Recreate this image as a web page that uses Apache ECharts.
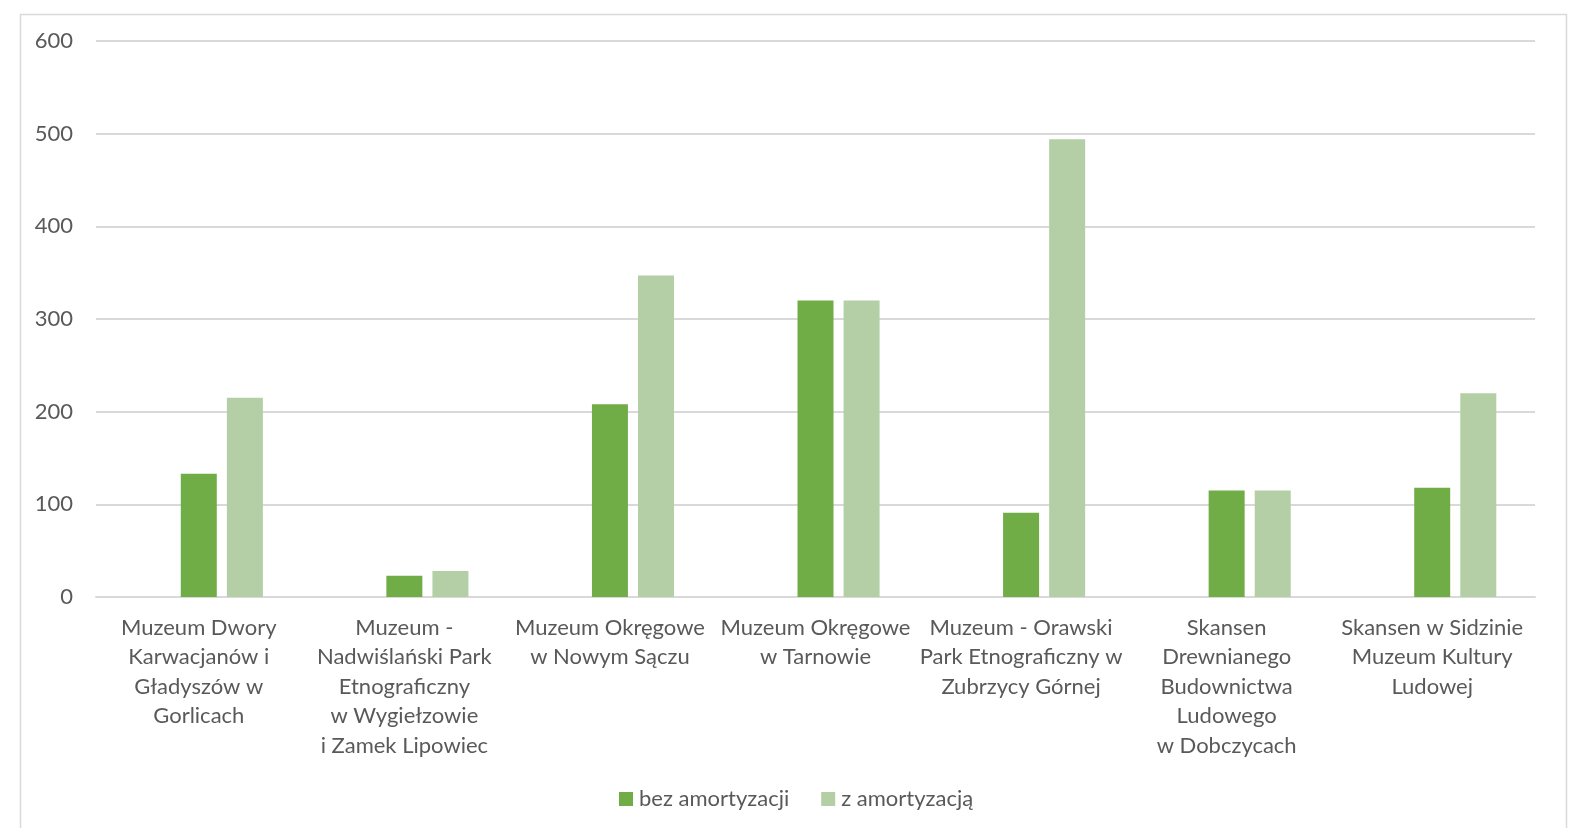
<!DOCTYPE html>
<html><head><meta charset="utf-8">
<script src="https://cdn.jsdelivr.net/npm/echarts@6/dist/echarts.min.js"></script>
<style>html,body{margin:0;padding:0;background:#fff}#c{width:1584px;height:828px}</style>
</head><body><div id="c"></div>
<script>
const categories = [
  "Muzeum Dwory\nKarwacjanów i\nGładyszów w\nGorlicach",
  "Muzeum -\nNadwiślański Park\nEtnograficzny\nw Wygiełzowie\ni Zamek Lipowiec",
  "Muzeum Okręgowe\nw Nowym Sączu",
  "Muzeum Okręgowe\nw Tarnowie",
  "Muzeum - Orawski\nPark Etnograficzny w\nZubrzycy Górnej",
  "Skansen\nDrewnianego\nBudownictwa\nLudowego\nw Dobczycach",
  "Skansen w Sidzinie\nMuzeum Kultury\nLudowej"
];
const seriesNames = ["bez amortyzacji", "z amortyzacją"];
const bezAmortyzacji = [133, 23, 208, 320, 91, 115, 118];
const zAmortyzacja = [215, 28, 347, 320, 494, 115, 220];
const emptySeries = ["-", "-", "-", "-", "-", "-", "-"];
const yTicks = { min: 0, max: 600, interval: 100 };

const font = "Lato, 'Open Sans', sans-serif";
const chart = echarts.init(document.getElementById('c'), null, {renderer: 'canvas'});
chart.setOption({
  animation: false,
  backgroundColor: '#fff',
  graphic: [{
    type: 'rect', left: 18, top: 12, silent: true,
    shape: {width: 1546, height: 840},
    style: {fill: 'none', stroke: '#d9d9d9', lineWidth: 1.5}
  }],
  grid: {left: 96, right: 49, top: 41, bottom: 231, containLabel: false},
  legend: {
    data: seriesNames,
    left: 614, top: 783,
    itemWidth: 14, itemHeight: 14, itemGap: 32,
    icon: 'rect',
    textStyle: {fontFamily: font, fontSize: 22, color: '#595959', padding: [0,0,0,1]}
  },
  xAxis: {
    type: 'category', data: categories,
    axisLine: {lineStyle: {color: '#d9d9d9', width: 2}},
    axisTick: {show: false},
    axisLabel: {
      interval: 0, margin: 16, color: '#595959',
      fontFamily: font, fontSize: 22, lineHeight: 29.5
    }
  },
  yAxis: {
    type: 'value', min: yTicks.min, max: yTicks.max, interval: yTicks.interval,
    axisLine: {show: false}, axisTick: {show: false},
    splitLine: {lineStyle: {color: '#d9d9d9', width: 2}},
    axisLabel: {margin: 23, color: '#595959', fontFamily: font, fontSize: 22}
  },
  series: [
    {name: '_empty', type: 'bar', data: emptySeries, barWidth: 36, barGap: '28%'},
    {name: seriesNames[0], type: 'bar', data: bezAmortyzacji, barWidth: 36, barGap: '28%',
     itemStyle: {color: '#70ad47'}},
    {name: seriesNames[1], type: 'bar', data: zAmortyzacja, barWidth: 36, barGap: '28%',
     itemStyle: {color: '#b4cfa6'}}
  ]
});
</script></body></html>
